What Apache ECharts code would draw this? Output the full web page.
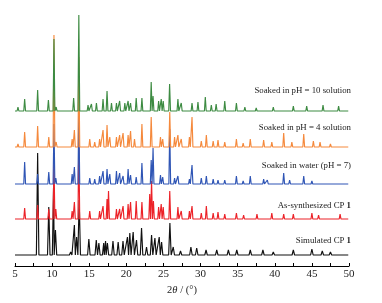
<!DOCTYPE html>
<html><head><meta charset="utf-8">
<script src="https://cdn.jsdelivr.net/npm/echarts@6/dist/echarts.min.js"></script>
<style>html,body{margin:0;padding:0;background:#fff}#c{width:382px;height:303px}</style>
</head><body><div id="c"></div>
<script>
// x axis (2theta, degrees)
const xTicks = [5, 10, 15, 20, 25, 30, 35, 40, 45, 50];
const seriesNames = ["Simulated CP 1", "As-synthesized CP 1", "Soaked in water (pH = 7)", "Soaked in pH = 4 solution", "Soaked in pH = 10 solution"];
// vertical offsets of each trace (stacked display)
const offsets = [11, 47, 82, 119, 155];
// peaks: [2theta, relative intensity]
const simPeaks = [[6.5,2],[8.05,102],[9.55,48],[10.2,70],[10.45,25],[12.5,3],[13.0,30],[13.3,18],[13.65,55],[14.95,16],[15.95,15],[16.3,12],[16.95,12],[17.2,14],[17.45,12],[18.2,14],[18.9,13],[19.55,14],[20.15,18],[20.47,22],[20.92,23],[21.37,15],[22.05,27],[22.72,8],[23.4,20],[23.85,17],[24.43,18],[24.75,13],[25.87,32],[26.32,8],[27.3,4],[28.7,8],[29.48,7],[30.74,5],[32.18,5],[33.75,5],[34.88,5],[36.7,5],[38.4,5],[39.8,3],[42.5,5],[45.0,6],[46.4,4],[47.5,3],[48.8,2]];
const asSynPeaks = [[6.3,11],[8.05,14],[9.55,10],[10.25,60],[10.5,10],[12.7,8],[13.0,17],[13.6,80],[15.07,8],[16.4,8],[16.86,13],[17.4,20],[17.6,28],[18.67,10],[19.1,10],[19.56,13],[20.24,15],[20.57,17],[21.33,18],[22.1,17],[23.15,25],[23.4,38],[23.65,18],[24.35,12],[24.7,15],[24.97,12],[25.85,28],[26.95,12],[27.4,8],[28.5,8],[28.85,13],[30.1,6],[30.78,13],[31.7,6],[32.35,7],[33.26,5],[34.83,6],[35.8,4],[37.6,5],[39.6,6],[41.2,5],[42.5,5],[45.0,6],[45.9,4],[48.8,5]];
const waterPeaks = [[6.3,22],[8.05,10],[9.55,12],[10.25,60],[10.5,6],[12.7,10],[13.0,17],[13.6,75],[15.07,6],[15.74,5],[16.4,8],[16.86,13],[17.4,15],[17.77,10],[18.67,13],[19.1,11],[19.56,8],[20.24,15],[20.57,9],[21.33,7],[22.1,21],[23.35,24],[23.6,36],[24.6,9],[24.9,7],[25.85,55],[26.5,6],[26.95,8],[28.5,5],[28.85,19],[30.1,6],[30.78,8],[31.7,5],[32.35,4],[33.26,4],[34.83,8],[35.74,3],[36.7,8],[38.5,5],[39.0,4],[41.2,11],[42.0,4],[43.9,8],[45.0,3]];
const pH4Peaks = [[5.4,3],[6.3,15],[8.05,21],[9.55,10],[10.25,112],[10.55,5],[12.7,8],[13.0,17],[13.6,90],[15.07,8],[15.74,5],[16.4,8],[16.86,17],[17.4,22],[17.77,10],[18.67,10],[19.1,12],[19.56,14],[20.24,12],[20.57,16],[21.1,8],[22.1,23],[23.35,30],[24.6,10],[24.9,8],[25.85,35],[26.5,10],[26.95,12],[27.4,8],[28.5,10],[28.85,30],[30.1,6],[30.78,12],[31.7,6],[32.35,7],[33.26,5],[34.83,8],[35.74,4],[36.7,8],[38.5,7],[39.6,5],[41.2,14],[42.3,5],[43.9,13],[45.2,6],[46.1,5],[47.5,3]];
const pH10Peaks = [[5.4,4],[6.3,12],[8.05,21],[9.5,11],[10.25,72],[10.55,4],[12.9,13],[13.6,96],[14.84,6],[15.3,7],[15.97,8],[16.86,12],[17.4,20],[18.0,8],[18.67,8],[19.1,10],[19.8,8],[20.24,10],[20.57,8],[21.33,13],[22.1,13],[23.35,29],[23.6,15],[24.35,10],[24.7,12],[24.97,10],[25.83,27],[26.95,12],[27.4,8],[28.85,8],[29.65,9],[30.64,14],[31.45,6],[32.1,7],[33.26,10],[34.83,8],[35.97,4],[37.5,3],[39.8,4],[42.5,5],[44.3,5],[46.5,6],[48.6,5]];

const colors = ["#111111", "#ec2228", "#2f55b5", "#f5893c", "#3d8b42"];
const halfWidths = [0.17, 0.12, 0.12, 0.12, 0.12];
const allPeaks = [simPeaks, asSynPeaks, waterPeaks, pH4Peaks, pH10Peaks];

function buildLine(peaks, base, w) {
  const pts = [[5, base]];
  peaks.forEach(p => {
    pts.push([p[0] - w, base], [p[0], base + p[1]], [p[0] + w, base]);
  });
  pts.push([49.9, base]);
  pts.sort((a, b) => a[0] - b[0]);
  return pts;
}

const series = allPeaks.map((pk, i) => ({
  name: seriesNames[i],
  type: 'line',
  data: buildLine(pk, offsets[i], halfWidths[i]),
  showSymbol: false,
  symbol: 'none',
  animation: false,
  lineStyle: { color: colors[i], width: 1.15 },
  z: 2 + i
}));

const labelY = [242, 207, 167, 129, 92];
const graphics = seriesNames.map((n, i) => {
  const m = n.match(/^(.*CP )1$/);
  return {
    type: 'text', right: 31, top: labelY[i] - 6,
    style: {
      text: m ? '{n|' + m[1] + '}{b|1}' : '{n|' + n + '}',
      rich: {
        n: { fontFamily: 'Liberation Serif', fontSize: 8.8, fill: '#222' },
        b: { fontFamily: 'Liberation Serif', fontSize: 8.8, fontWeight: 'bold', fill: '#222' }
      }
    }
  };
});

const chart = echarts.init(document.getElementById('c'));
chart.setOption({
  animation: false,
  grid: { left: 15, right: 33, top: 0, bottom: 37 },
  xAxis: {
    type: 'value', min: xTicks[0], max: xTicks[xTicks.length - 1], interval: 5,
    axisLine: { lineStyle: { color: '#000', width: 1 } },
    axisTick: { inside: true, length: 3, lineStyle: { color: '#000' } },
    minorTick: { show: true, splitNumber: 2, length: 3, lineStyle: { color: '#000' } },
    splitLine: { show: false },
    axisLabel: { margin: 3, fontFamily: 'Liberation Serif', fontSize: 11, color: '#222' },
    name: '{a|2}{i|θ}{a| / (°)}',
    nameLocation: 'middle', nameGap: 17,
    nameTextStyle: {
      rich: {
        a: { fontFamily: 'Liberation Serif', fontSize: 10.5, color: '#222' },
        i: { fontFamily: 'Liberation Serif', fontSize: 10.5, fontStyle: 'italic', color: '#222' }
      }
    }
  },
  yAxis: { type: 'value', min: 0, max: 266, show: false },
  graphic: graphics,
  series: series
});
</script>
</body></html>
